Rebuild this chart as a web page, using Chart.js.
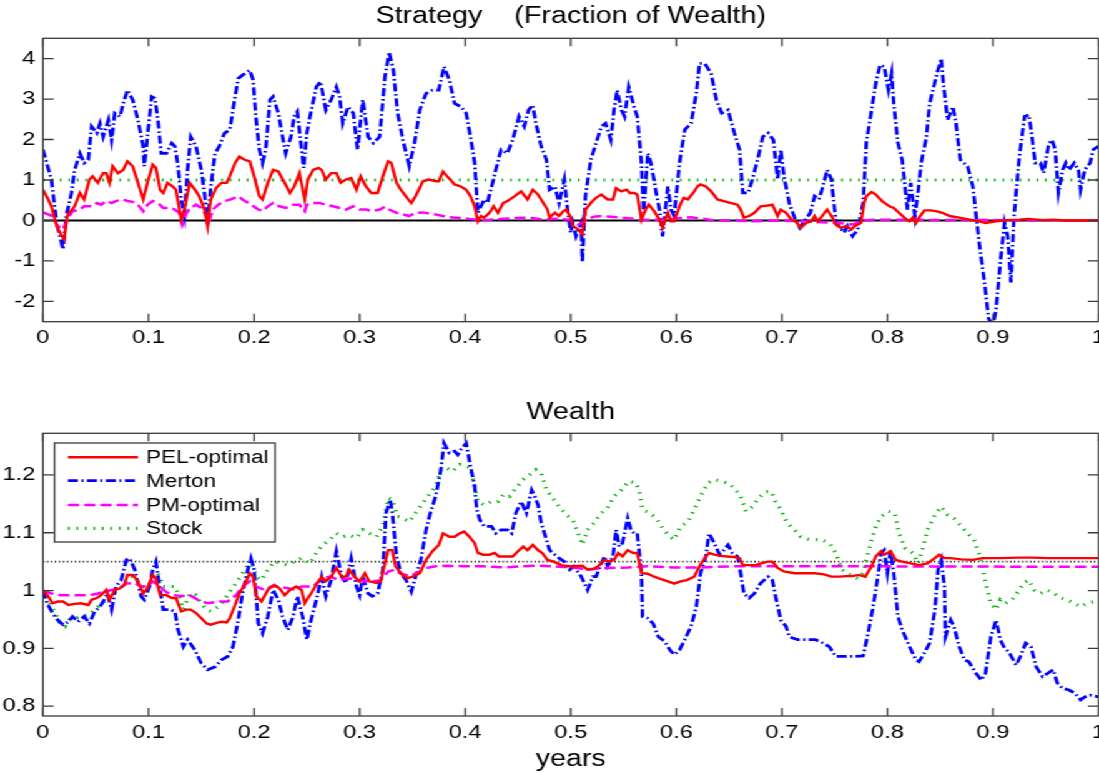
<!DOCTYPE html>
<html>
<head>
<meta charset="utf-8">
<title>Strategy and Wealth</title>
<script src="https://cdn.jsdelivr.net/npm/chart.js@4.4.1/dist/chart.umd.min.js"></script>
<style>
    html, body { margin: 0; padding: 0; background: #fff; overflow: hidden; width: 1099px; height: 773px; }
    /* the figure is drawn narrow and stretched sideways, like the original */
    #stage { position: absolute; left: 0; top: 0; width: 890px; height: 773px; transform-origin: 0 0; transform: scaleX(1.24886); }
    #strategyChart { position: absolute; left: 0; top: 0; }
    #wealthChart { position: absolute; left: 0; top: 385px; }
</style>
</head>
<body>
<div id="stage">
    <canvas id="strategyChart" width="890" height="360"></canvas>
    <canvas id="wealthChart" width="890" height="388"></canvas>
</div>
<script>
// ============================================
// Strategy (fraction of wealth) + Wealth paths
// ============================================

const FONT = '"Liberation Sans", Arial, Helvetica, sans-serif';

// ---- axes ----
const xTicks = [0, 0.1, 0.2, 0.3, 0.4, 0.5, 0.6, 0.7, 0.8, 0.9, 1];
const xTickLabels = ['0', '0.1', '0.2', '0.3', '0.4', '0.5', '0.6', '0.7', '0.8', '0.9', '1'];
const strategyTicks = [-2, -1, 0, 1, 2, 3, 4];
const strategyTickLabels = ['-2', '-1', '0', '1', '2', '3', '4'];
const wealthTicks = [0.8, 0.9, 1, 1.1, 1.2];
const wealthTickLabels = ['0.8', '0.9', '1', '1.1', '1.2'];

// constant levels
const horizonT = [0, 1];
const zeroLevel = 0;
const stockFraction = 1;
const targetWealth = 1.05;

// ---- top panel: fraction of wealth in the stock ----
const strategyMertonT = [
    0, .008, .013, .019, .022, .027, .030, .035, .039, .043,
    .046, .051, .054, .057, .062, .065, .068, .073, .076, .080,
    .085, .090, .095, .096, .099, .103, .106, .109, .112, .117,
    .122, .125, .128, .131, .134, .137, .140, .145, .150, .153,
    .156, .159, .163, .167, .172, .177, .182, .185, .189, .196,
    .199, .202, .205, .208, .211, .215, .218, .223, .227, .230,
    .235, .238, .241, .247, .250, .253, .259, .263, .268, .273,
    .278, .281, .284, .289, .294, .298, .303, .308, .313, .319,
    .324, .328, .332, .336, .341, .347, .352, .357, .363, .369,
    .375, .380, .385, .390, .396, .401, .405, .409, .412, .415,
    .418, .421, .426, .429, .434, .440, .445, .451, .456, .460,
    .464, .467, .472, .477, .480, .485, .489, .494, .497, .500,
    .502, .505, .510, .511, .514, .519, .524, .529, .533, .538,
    .541, .544, .548, .551, .555, .560, .563, .567, .569, .573,
    .576, .581, .584, .587, .592, .595, .598, .603, .608, .614,
    .619, .622, .627, .633, .638, .643, .649, .655, .660, .663,
    .668, .672, .677, .682, .687, .692, .696, .699, .702, .707,
    .712, .717, .721, .727, .731, .735, .738, .743, .747, .751,
    .754, .759, .762, .767, .772, .777, .780, .785, .789, .793,
    .797, .801, .804, .806, .810, .814, .819, .822, .826, .829,
    .832, .837, .840, .847, .851, .853, .857, .862, .865, .869,
    .876, .881, .887, .892, .896, .900, .903, .907, .911, .914,
    .917, .920, .925, .930, .934, .937, .940, .945, .948, .953,
    .956, .959, .962, .966, .969, .972, .977, .981, .983, .987,
    .992, .995, 1
];
const strategyMerton = [
    1.75, 1.01, -0.06, -0.71, 0.11, 0.68, 1.25, 1.66, 1.42, 1.5,
    2.32, 2.16, 2.4, 2.07, 2.48, 1.99, 2.65, 2.57, 2.89, 3.22,
    2.98, 2.48, 1.83, 1.34, 2.07, 3.06, 3.02, 2.48, 1.66, 1.66,
    1.91, 1.83, 1.34, 0.52, 0.11, 1.25, 2.07, 1.83, 1.25, 0.68,
    -0.1, 0.84, 1.66, 1.83, 2.16, 2.24, 3.06, 3.51, 3.59, 3.71,
    3.47, 2.48, 1.75, 1.42, 1.75, 2.98, 3.06, 2.65, 2.07, 1.66,
    2.07, 2.57, 2.69, 1.3, 2.16, 2.57, 3.3, 3.43, 2.73, 2.98,
    3.3, 3.06, 2.4, 2.81, 2.65, 1.75, 2.98, 2.07, 1.91, 2.07,
    3.55, 4.16, 3.71, 2.65, 1.99, 1.34, 1.91, 2.73, 3.14, 3.22,
    3.22, 3.8, 3.47, 2.89, 2.81, 2.65, 2.07, 1.42, 0.19, 0.35,
    0.52, 0.43, 0.93, 1.25, 1.75, 1.66, 1.99, 2.57, 2.32, 2.73,
    2.85, 2.4, 1.83, 1.5, 0.76, 0.84, 0.43, 1.01, 0.27, -0.3,
    -0.06, -0.39, -0.06, -1.04, 0.6, 1.5, 1.91, 2.32, 2.4, 1.99,
    2.73, 3.22, 2.73, 2.57, 3.3, 2.81, 2.57, 1.42, 0.19, 1.66,
    1.42, 0.68, 0.27, -0.39, 0.84, 0.27, 0.11, 1.42, 2.24, 2.4,
    3.14, 3.88, 3.88, 3.63, 2.98, 2.65, 2.73, 2.16, 1.75, 0.68,
    0.68, 1.01, 1.5, 2.07, 2.16, 1.99, 1.01, 1.75, 1.09, 0.43,
    0.07, -0.18, -0.02, 0.19, 0.6, 0.52, 0.76, 1.25, 1.01, 0.02,
    -0.14, -0.3, -0.14, -0.39, -0.22, 0.43, 1.91, 2.73, 3.39, 3.84,
    3.8, 3.22, 3.63, 2.89, 1.91, 1.5, 0.27, 0.93, 0.11, 0.68,
    1.42, 2.07, 2.89, 3.63, 4.0, 3.39, 2.48, 2.81, 2.4, 1.5,
    1.34, 0.84, -0.55, -1.53, -2.43, -2.6, -2.19, -1.04, -0.06, -0.39,
    -1.53, 0.11, 1.58, 2.57, 2.61, 2.07, 1.42, 1.42, 1.17, 1.91,
    1.99, 1.75, 0.68, 1.25, 1.42, 1.25, 1.42, 1.25, 0.76, 1.25,
    1.42, 1.75, 1.83
];

const strategyPelT = [
    0, .005, .008, .013, .016, .020, .023, .025, .030, .035,
    .039, .044, .047, .052, .057, .060, .063, .066, .071, .076,
    .080, .085, .090, .095, .099, .104, .107, .111, .114, .118,
    .123, .126, .131, .134, .139, .144, .148, .153, .156, .159,
    .164, .169, .174, .177, .182, .186, .191, .196, .200, .205,
    .208, .213, .218, .223, .229, .234, .238, .243, .248, .251,
    .256, .261, .264, .268, .273, .278, .282, .287, .292, .297,
    .301, .306, .311, .317, .322, .327, .330, .335, .339, .346,
    .349, .353, .360, .366, .372, .375, .379, .383, .390, .396,
    .401, .405, .409, .412, .415, .418, .423, .427, .431, .436,
    .440, .447, .453, .459, .464, .469, .474, .478, .480, .485,
    .489, .493, .496, .500, .502, .507, .511, .514, .519, .524,
    .529, .535, .540, .543, .548, .553, .556, .560, .563, .567,
    .571, .574, .579, .584, .587, .592, .595, .598, .603, .607,
    .611, .616, .620, .623, .628, .633, .639, .645, .652, .658,
    .661, .664, .669, .674, .680, .687, .691, .696, .699, .704,
    .709, .713, .718, .723, .728, .731, .734, .737, .743, .748,
    .751, .756, .761, .766, .769, .775, .778, .780, .785, .789,
    .795, .802, .806, .811, .816, .821, .824, .827, .830, .835,
    .841, .846, .852, .859, .868, .878, .887, .893, .903, .912,
    .925, .934, .947, .957, .969, 1
];
const strategyPel = [
    0.76, 0.52, 0.35, -0.14, -0.3, -0.47, 0.11, 0.19, 0.35, 0.68,
    0.52, 1.01, 1.09, 0.93, 1.17, 1.17, 0.93, 1.34, 1.17, 1.25,
    1.46, 1.34, 0.93, 0.52, 0.93, 1.38, 1.3, 0.76, 0.68, 0.93,
    0.84, 0.76, 0.02, 0.27, 0.93, 0.76, 0.6, 0.27, -0.14, 0.52,
    0.8, 0.93, 0.93, 1.09, 1.42, 1.58, 1.5, 1.46, 1.09, 0.6,
    0.52, 0.93, 1.25, 1.21, 0.93, 0.68, 0.84, 1.17, 0.52, 1.01,
    1.25, 1.3, 1.25, 1.01, 1.17, 1.17, 0.93, 1.01, 1.05, 0.76,
    1.09, 0.84, 0.68, 0.68, 1.09, 1.46, 1.42, 0.93, 0.76, 0.52,
    0.43, 0.6, 0.97, 1.01, 0.97, 0.97, 1.21, 1.09, 0.89, 0.84,
    0.76, 0.6, 0.35, -0.02, 0.11, 0.07, 0.19, 0.35, 0.19, 0.43,
    0.48, 0.6, 0.72, 0.52, 0.76, 0.64, 0.43, 0.27, 0.07, 0.19,
    0.11, 0.23, 0.27, 0.07, -0.14, -0.22, -0.34, 0.27, 0.43, 0.56,
    0.64, 0.52, 0.52, 0.8, 0.72, 0.76, 0.68, 0.68, 0.64, 0.02,
    0.27, 0.39, 0.23, 0.02, -0.18, 0.19, -0.02, -0.02, 0.35, 0.56,
    0.52, 0.68, 0.84, 0.89, 0.84, 0.72, 0.52, 0.48, 0.43, 0.39,
    0.27, 0.07, 0.11, 0.19, 0.35, 0.37, 0.39, 0.11, 0.27, 0.19,
    0.02, -0.02, -0.18, -0.06, -0.02, 0.11, -0.02, 0.07, 0.27, 0.07,
    -0.1, -0.18, -0.14, -0.22, -0.14, -0.06, 0.43, 0.6, 0.7, 0.64,
    0.48, 0.35, 0.31, 0.19, 0.07, -0.02, 0.07, -0.06, 0.07, 0.25,
    0.25, 0.23, 0.19, 0.11, 0.07, 0.02, -0.02, -0.06, -0.02, 0.01,
    0.02, 0.04, 0.01, 0.02, 0, 0
];

const strategyPmT = [
    0, .009, .014, .019, .024, .028, .035, .039, .046, .051,
    .055, .060, .065, .069, .076, .080, .085, .090, .095, .099,
    .104, .109, .114, .120, .125, .129, .132, .136, .140, .145,
    .150, .155, .157, .161, .166, .172, .178, .185, .189, .197,
    .204, .208, .213, .218, .224, .230, .237, .243, .248, .250,
    .256, .262, .268, .275, .281, .287, .294, .300, .306, .312,
    .319, .324, .328, .335, .341, .347, .353, .360, .366, .372,
    .382, .391, .404, .413, .423, .436, .448, .461, .473, .486,
    .499, .507, .511, .516, .522, .529, .538, .548, .560, .567,
    .579, .592, .604, .614, .623, .636, .655, .674, .693, .718,
    .754, .767, .777, .786, 1
];
const strategyPm = [
    0.2, 0.11, -0.14, -0.22, 0.07, 0.23, 0.27, 0.35, 0.35, 0.43,
    0.39, 0.48, 0.43, 0.48, 0.52, 0.48, 0.46, 0.39, 0.23, 0.39,
    0.48, 0.43, 0.31, 0.31, 0.27, 0.19, -0.1, 0.19, 0.31, 0.39,
    0.31, 0.11, -0.06, 0.27, 0.39, 0.48, 0.52, 0.6, 0.52, 0.39,
    0.27, 0.23, 0.35, 0.43, 0.35, 0.31, 0.39, 0.39, 0.23, 0.39,
    0.43, 0.43, 0.39, 0.35, 0.31, 0.27, 0.35, 0.27, 0.27, 0.23,
    0.27, 0.34, 0.27, 0.19, 0.15, 0.11, 0.19, 0.2, 0.17, 0.15,
    0.09, 0.07, 0.04, 0.01, 0.02, 0.04, 0.06, 0.07, 0.02, 0.04,
    0.02, -0.1, -0.06, 0.04, 0.09, 0.11, 0.09, 0.07, 0.04, 0.01,
    0.02, 0.02, 0.06, 0.08, 0.05, 0, 0, -0.02, 0, -0.02,
    -0.06, -0.1, 0, 0.02, 0
];

// ---- bottom panel: wealth ----
const wealthPelT = [
    0, .005, .009, .014, .019, .024, .030, .036, .043, .046,
    .051, .055, .060, .063, .068, .073, .077, .080, .085, .090,
    .095, .099, .104, .107, .111, .117, .122, .126, .131, .136,
    .140, .145, .150, .155, .159, .166, .170, .174, .177, .182,
    .186, .191, .196, .199, .202, .207, .213, .219, .224, .229,
    .234, .240, .245, .248, .250, .254, .259, .264, .268, .273,
    .278, .283, .287, .290, .295, .300, .305, .309, .316, .320,
    .324, .327, .331, .334, .339, .345, .350, .357, .363, .369,
    .375, .379, .385, .390, .395, .399, .404, .409, .412, .417,
    .423, .428, .432, .439, .445, .450, .455, .459, .464, .469,
    .473, .478, .484, .491, .497, .503, .511, .516, .521, .526,
    .532, .537, .541, .545, .549, .554, .559, .563, .567, .573,
    .579, .585, .592, .598, .604, .610, .617, .622, .627, .631,
    .636, .642, .648, .655, .660, .663, .669, .675, .682, .687,
    .691, .696, .702, .712, .721, .731, .740, .747, .755, .761,
    .767, .773, .779, .785, .789, .794, .797, .800, .803, .808,
    .814, .822, .830, .838, .845, .849, .854, .860, .870, .881,
    .890, .906, .925, .937, .953, .969, 1
];
const wealthPel = [
    1, .99, .978, .981, .981, .975, .977, .978, .975, .984,
    .987, .992, 1.001, .984, 1.001, 1.004, 1.01, 1.027, 1.027, 1.016,
    .995, 1.004, 1.027, 1.021, .992, .992, .987, .987, .964, .967,
    .967, .961, .952, .943, .941, .945, .946, .945, .952, .975,
    .995, 1.01, 1.03, 1.024, .99, .981, 1.001, 1.01, 1.004, .992,
    1.001, 1.007, 1.001, .978, .984, .995, 1.01, 1.024, 1.016, 1.024,
    1.039, 1.024, 1.024, 1.036, 1.024, 1.016, 1.03, 1.016, 1.013, 1.016,
    1.047, 1.07, 1.07, 1.042, 1.03, 1.021, 1.024, 1.03, 1.053, 1.068,
    1.079, 1.099, 1.093, 1.093, 1.099, 1.102, 1.093, 1.082, 1.065, 1.062,
    1.062, 1.065, 1.059, 1.059, 1.059, 1.068, 1.076, 1.07, 1.079, 1.07,
    1.065, 1.053, 1.05, 1.044, 1.042, 1.042, 1.043, 1.036, 1.037, 1.042,
    1.053, 1.05, 1.053, 1.065, 1.059, 1.07, 1.065, 1.065, 1.03, 1.029,
    1.024, 1.02, 1.016, 1.012, 1.016, 1.018, 1.024, 1.042, 1.056, 1.065,
    1.062, 1.06, 1.059, 1.058, 1.056, 1.044, 1.044, 1.044, 1.048, 1.05,
    1.05, 1.039, 1.033, 1.03, 1.03, 1.03, 1.028, 1.024, 1.024, 1.025,
    1.025, 1.027, 1.024, 1.042, 1.059, 1.068, 1.062, 1.065, 1.068, 1.053,
    1.05, 1.047, 1.044, 1.047, 1.056, 1.062, 1.056, 1.056, 1.054, 1.053,
    1.056, 1.056, 1.057, 1.057, 1.056, 1.056, 1.056
];

const wealthMertonT = [
    0, .004, .009, .014, .019, .024, .028, .033, .039, .044,
    .049, .054, .058, .061, .065, .069, .074, .079, .082, .087,
    .090, .093, .096, .101, .104, .107, .111, .114, .120, .125,
    .128, .133, .137, .144, .150, .156, .163, .169, .175, .180,
    .185, .189, .194, .197, .200, .204, .208, .213, .218, .223,
    .227, .232, .237, .241, .246, .250, .254, .259, .264, .268,
    .273, .278, .283, .287, .292, .297, .300, .303, .308, .312,
    .317, .322, .325, .329, .331, .335, .339, .344, .349, .353,
    .358, .363, .367, .372, .377, .380, .385, .390, .393, .396,
    .401, .405, .409, .411, .414, .418, .425, .429, .434, .440,
    .444, .448, .453, .458, .463, .466, .469, .472, .477, .480,
    .485, .489, .494, .499, .503, .510, .516, .521, .524, .529,
    .532, .535, .540, .543, .546, .549, .554, .557, .560, .563,
    .567, .568, .573, .578, .583, .589, .594, .598, .603, .608,
    .614, .619, .623, .628, .631, .636, .641, .645, .649, .653,
    .658, .661, .664, .669, .674, .680, .687, .691, .694, .699,
    .704, .707, .715, .724, .732, .739, .745, .751, .755, .761,
    .769, .777, .781, .786, .791, .794, .797, .800, .803, .806,
    .810, .814, .821, .827, .830, .835, .840, .845, .848, .851,
    .854, .855, .860, .863, .868, .873, .877, .884, .889, .893,
    .898, .903, .907, .911, .915, .922, .926, .931, .936, .941,
    .947, .952, .957, .961, .966, .972, .978, .983, .987, .992,
    1
];
const wealthMerton = [
    1, .978, .961, .949, .941, .946, .955, .946, .955, .943,
    .964, .972, .984, .995, .967, 1.007, 1.018, 1.053, 1.056, 1.036,
    1.013, .99, .984, 1.007, 1.036, 1.05, 1.001, .967, .967, .964,
    .932, .903, .915, .897, .874, .863, .868, .88, .886, .903,
    .949, .995, 1.036, 1.056, 1.036, .943, .926, .955, 1.001, .984,
    .955, .932, .955, .99, .955, .915, .949, .984, 1.024, .99,
    1.018, 1.068, 1.024, 1.013, 1.056, 1.007, .992, 1.024, .995, .99,
    .995, 1.036, 1.134, 1.157, 1.134, 1.059, 1.03, 1.018, .998, 1.024,
    1.053, 1.105, 1.134, 1.163, 1.209, 1.255, 1.238, 1.241, 1.235, 1.244,
    1.255, 1.215, 1.18, 1.14, 1.122, 1.111, 1.111, 1.099, 1.105, 1.105,
    1.099, 1.134, 1.154, 1.134, 1.174, 1.163, 1.148, 1.117, 1.088, 1.07,
    1.062, 1.056, 1.05, 1.036, 1.042, 1.024, 1.001, 1.024, 1.024, 1.047,
    1.059, 1.042, 1.059, 1.105, 1.076, 1.082, 1.125, 1.105, 1.099, 1.099,
    1.03, .955, .952, .943, .92, .912, .897, .889, .897, .915,
    .938, .972, 1.03, 1.059, 1.099, 1.082, 1.062, 1.07, 1.079, 1.065,
    1.059, 1.03, .995, .987, .995, 1.013, 1.024, 1.018, .99, .949,
    .938, .92, .915, .915, .915, .909, .903, .886, .886, .886,
    .886, .887, .92, .967, 1.024, 1.065, 1.07, 1.03, 1.07, 1.03,
    .955, .932, .903, .88, .877, .892, .909, .967, 1.036, 1.053,
    1.007, .92, .949, .938, .903, .88, .877, .857, .845, .857,
    .92, .949, .915, .9, .894, .871, .886, .909, .903, .868,
    .851, .857, .863, .84, .831, .828, .822, .811, .816, .819,
    .816
];

const wealthPmT = [
    0, .008, .017, .027, .036, .044, .052, .058, .065, .073,
    .079, .087, .093, .099, .104, .111, .117, .125, .131, .139,
    .147, .156, .166, .175, .183, .189, .196, .202, .210, .216,
    .223, .232, .238, .245, .256, .264, .272, .281, .291, .299,
    .306, .312, .320, .327, .333, .339, .347, .355, .363, .372,
    .382, .398, .417, .436, .455, .467, .483, .500, .516, .535,
    .554, .573, .598, .623, .655, .687, .718, .751, 1
];
const wealthPm = [
    1, .995, .992, .992, .992, .992, .995, .998, 1.001, 1.004,
    1.012, 1.013, 1.007, 1.007, 1.016, 1.007, .997, .992, .99, .992,
    .984, .978, .981, .981, .992, 1.007, 1.016, 1.007, 1.001, 1.007,
    1.007, 1.004, 1.002, 1.007, 1.007, 1.021, 1.024, 1.018, 1.021, 1.016,
    1.016, 1.016, 1.018, 1.033, 1.036, 1.029, 1.025, 1.031, 1.039, 1.042,
    1.043, 1.042, 1.042, 1.04, 1.042, 1.043, 1.042, 1.04, 1.037, 1.039,
    1.04, 1.042, 1.04, 1.04, 1.042, 1.042, 1.042, 1.042, 1.041
];

const wealthStockT = [
    0, .004, .011, .016, .021, .025, .030, .036, .043, .047,
    .054, .060, .066, .073, .079, .084, .088, .093, .099, .104,
    .109, .114, .118, .125, .128, .133, .139, .145, .150, .155,
    .159, .166, .172, .178, .185, .191, .197, .202, .207, .213,
    .219, .226, .232, .238, .245, .253, .259, .265, .272, .278,
    .284, .290, .297, .303, .309, .316, .322, .327, .331, .336,
    .341, .347, .353, .360, .366, .372, .377, .382, .388, .395,
    .401, .405, .409, .412, .418, .425, .431, .436, .442, .448,
    .455, .461, .467, .472, .477, .483, .489, .496, .502, .507,
    .511, .516, .522, .529, .535, .541, .548, .555, .562, .565,
    .568, .575, .581, .587, .594, .598, .604, .611, .617, .623,
    .630, .636, .642, .649, .655, .661, .666, .672, .678, .685,
    .690, .694, .699, .705, .712, .718, .726, .732, .738, .745,
    .751, .757, .762, .767, .772, .777, .780, .785, .789, .794,
    .801, .807, .811, .817, .824, .829, .834, .838, .845, .851,
    .857, .863, .870, .876, .882, .889, .893, .898, .903, .907,
    .912, .918, .925, .929, .934, .939, .945, .951, .958, .964,
    .970, .977, .983, .989, .996, 1
];
const wealthStock = [
    1, .984, .964, .943, .938, .949, .952, .955, .958, .964,
    .975, .984, .995, 1.004, 1.016, 1.024, 1.018, 1.007, 1.007, 1.021,
    1.03, 1.007, 1.007, 1.007, .995, .967, .995, .992, .978, .967,
    .964, .972, .984, 1.001, 1.018, 1.036, 1.053, 1.024, 1.018, 1.036,
    1.05, 1.047, 1.044, 1.05, 1.056, 1.047, 1.065, 1.079, 1.088, 1.099,
    1.093, 1.096, 1.091, 1.105, 1.099, 1.093, 1.111, 1.16, 1.157, 1.128,
    1.125, 1.119, 1.134, 1.151, 1.166, 1.18, 1.209, 1.212, 1.206, 1.218,
    1.215, 1.212, 1.18, 1.154, 1.148, 1.154, 1.154, 1.166, 1.163, 1.177,
    1.192, 1.2, 1.209, 1.203, 1.174, 1.16, 1.145, 1.131, 1.122, 1.099,
    1.079, 1.105, 1.117, 1.134, 1.143, 1.163, 1.174, 1.189, 1.186, 1.171,
    1.14, 1.134, 1.125, 1.108, 1.093, 1.088, 1.111, 1.119, 1.14, 1.163,
    1.186, 1.192, 1.189, 1.186, 1.177, 1.163, 1.137, 1.145, 1.16, 1.171,
    1.171, 1.154, 1.14, 1.117, 1.105, 1.093, 1.088, 1.088, 1.088, 1.082,
    1.065, 1.036, 1.03, 1.025, 1.021, 1.03, 1.053, 1.088, 1.111, 1.128,
    1.137, 1.134, 1.099, 1.073, 1.065, 1.047, 1.076, 1.105, 1.131, 1.145,
    1.131, 1.125, 1.111, 1.099, 1.088, 1.053, 1.013, .978, .967, .984,
    .978, .984, 1.001, 1.013, 1.018, 1.001, .995, 1.001, .995, .987,
    .984, .978, .972, .978, .981, .979
];

const legendOrder = ['PEL-optimal', 'Merton', 'PM-optimal', 'Stock'];

// ---- line styles ----
const STYLE = {
    pel:    { borderColor: '#ff0000', borderWidth: 2.4, borderDash: [] },
    merton: { borderColor: '#0000ff', borderWidth: 2.8, borderDash: [8, 2.8, 1.6, 2.8] },
    pm:     { borderColor: '#ff00ff', borderWidth: 2.5, borderDash: [9, 4] },
    stock:  { borderColor: '#00b400', borderWidth: 3.2, borderDash: [1.3, 5.5] },
    zero:   { borderColor: '#000000', borderWidth: 2.2, borderDash: [] },
    target: { borderColor: '#000000', borderWidth: 1.6, borderDash: [1, 2.2] }
};

// ============ helpers ============

function toPoints(ts, vs) {
    return ts.map((t, i) => ({ x: t, y: vs[i] }));
}

function level(value) {
    return toPoints(horizonT, horizonT.map(() => value));
}

function lineSet(label, data, style) {
    return Object.assign({
        label: label,
        data: data,
        pointRadius: 0,
        pointHoverRadius: 0,
        tension: 0,
        fill: false
    }, style);
}

// box round the plot with inward tick marks
const plotFrame = {
    id: 'plotFrame',
    afterDatasetsDraw(chart, args, opts) {
        const { ctx, chartArea: a, scales: { x, y } } = chart;
        ctx.save();
        ctx.strokeStyle = '#3a3a3a';
        ctx.lineWidth = 1.3;
        ctx.setLineDash([]);
        ctx.beginPath();
        x.ticks.forEach(t => {
            const px = x.getPixelForValue(t.value);
            ctx.moveTo(px, a.bottom); ctx.lineTo(px, a.bottom - 8);
            ctx.moveTo(px, a.top); ctx.lineTo(px, a.top + 8);
        });
        y.ticks.forEach(t => {
            const py = y.getPixelForValue(t.value);
            ctx.moveTo(a.left, py); ctx.lineTo(a.left + 8.5, py);
            ctx.moveTo(a.right, py); ctx.lineTo(a.right - 8.5, py);
        });
        ctx.stroke();
        ctx.strokeRect(a.left, a.top, a.right - a.left, a.bottom - a.top);
        ctx.restore();
    }
};

// boxed legend inside the wealth plot
const boxedLegend = {
    id: 'boxedLegend',
    afterDatasetsDraw(chart, args, opts) {
        if (!opts.show) return;
        const ctx = chart.ctx;
        ctx.save();
        ctx.fillStyle = '#ffffff';
        ctx.fillRect(opts.x, opts.y, opts.w, opts.h);
        ctx.strokeStyle = '#3a3a3a';
        ctx.lineWidth = 1.3;
        ctx.setLineDash([]);
        ctx.strokeRect(opts.x, opts.y, opts.w, opts.h);
        ctx.font = '18px ' + FONT;
        ctx.textBaseline = 'middle';
        ctx.textAlign = 'left';
        legendOrder.forEach((name, i) => {
            const ds = chart.data.datasets.find(d => d.label === name);
            const yy = opts.rows[i];
            ctx.strokeStyle = ds.borderColor;
            ctx.lineWidth = ds.borderWidth;
            ctx.setLineDash(ds.borderDash || []);
            ctx.beginPath();
            ctx.moveTo(opts.lineFrom, yy);
            ctx.lineTo(opts.lineTo, yy);
            ctx.stroke();
            ctx.setLineDash([]);
            ctx.fillStyle = '#000';
            ctx.fillText(name, opts.textX, yy + 1);
        });
        ctx.restore();
    }
};

// titles and the x label
const captions = {
    id: 'captions',
    afterDraw(chart, args, opts) {
        const { ctx, chartArea: a } = chart;
        ctx.save();
        ctx.fillStyle = '#000';
        ctx.textAlign = 'center';
        ctx.textBaseline = 'alphabetic';
        opts.items.forEach(it => {
            ctx.font = it.size + 'px ' + FONT;
            ctx.fillText(it.text, (a.left + a.right) / 2, it.y);
        });
        ctx.restore();
    }
};

function xAxis(height) {
    return {
        type: 'linear',
        min: 0,
        max: 1,
        afterBuildTicks: s => { s.ticks = xTicks.map(v => ({ value: v })); },
        afterFit: s => { s.height = height; },
        ticks: {
            callback: (v, i) => xTickLabels[i],
            autoSkip: false,
            maxRotation: 0,
            padding: 5,
            color: '#000',
            font: { family: FONT, size: 19 }
        },
        grid: { display: false, drawTicks: false },
        border: { display: false }
    };
}

function yAxis(min, max, ticks, labels) {
    return {
        type: 'linear',
        min: min,
        max: max,
        afterBuildTicks: s => { s.ticks = ticks.map(v => ({ value: v })); },
        afterFit: s => { s.width = 34.4; },
        ticks: {
            callback: (v, i) => labels[i],
            autoSkip: false,
            padding: 6,
            color: '#000',
            font: { family: FONT, size: 19 }
        },
        grid: { display: false, drawTicks: false },
        border: { display: false }
    };
}

function baseOptions(padTop, xHeight, yMin, yMax, yTicks, yLabels, titleItems, legendOpts) {
    return {
        responsive: false,
        animation: false,
        devicePixelRatio: 1,
        layout: { padding: { top: padTop, right: 10.4, bottom: 0, left: 0 } },
        scales: {
            x: xAxis(xHeight),
            y: yAxis(yMin, yMax, yTicks, yLabels)
        },
        plugins: {
            legend: { display: false },
            tooltip: { enabled: false },
            captions: { items: titleItems },
            boxedLegend: legendOpts
        }
    };
}

Chart.defaults.font.family = FONT;

// ============ strategy chart ============
new Chart(document.getElementById('strategyChart').getContext('2d'), {
    type: 'line',
    data: {
        datasets: [
            lineSet('PEL-optimal', toPoints(strategyPelT, strategyPel), STYLE.pel),
            lineSet('PM-optimal', toPoints(strategyPmT, strategyPm), STYLE.pm),
            lineSet('Merton', toPoints(strategyMertonT, strategyMerton), STYLE.merton),
            lineSet('Stock', level(stockFraction), STYLE.stock),
            lineSet('zero', level(zeroLevel), STYLE.zero)
        ]
    },
    options: baseOptions(38.3, 38.3, -2.5, 4.5, strategyTicks, strategyTickLabels,
        [{ text: 'Strategy    (Fraction of Wealth)', y: 23, size: 23 }],
        { show: false }),
    plugins: [plotFrame, boxedLegend, captions]
});

// ============ wealth chart ============
new Chart(document.getElementById('wealthChart').getContext('2d'), {
    type: 'line',
    data: {
        datasets: [
            lineSet('PEL-optimal', toPoints(wealthPelT, wealthPel), STYLE.pel),
            lineSet('PM-optimal', toPoints(wealthPmT, wealthPm), STYLE.pm),
            lineSet('Merton', toPoints(wealthMertonT, wealthMerton), STYLE.merton),
            lineSet('Stock', toPoints(wealthStockT, wealthStock), STYLE.stock),
            lineSet('target', level(targetWealth), STYLE.target)
        ]
    },
    options: baseOptions(48.3, 57, 0.783, 1.272, wealthTicks, wealthTickLabels,
        [
            { text: 'Wealth', y: 34, size: 23 },
            { text: 'years', y: 380.5, size: 23 }
        ],
        {
            show: true,
            x: 43.6, y: 58, w: 176.6, h: 99,
            lineFrom: 54.4, lineTo: 110.5, textX: 117,
            rows: [72.3, 95.7, 120, 143.3]
        }),
    plugins: [plotFrame, boxedLegend, captions]
});
</script>
</body>
</html>
